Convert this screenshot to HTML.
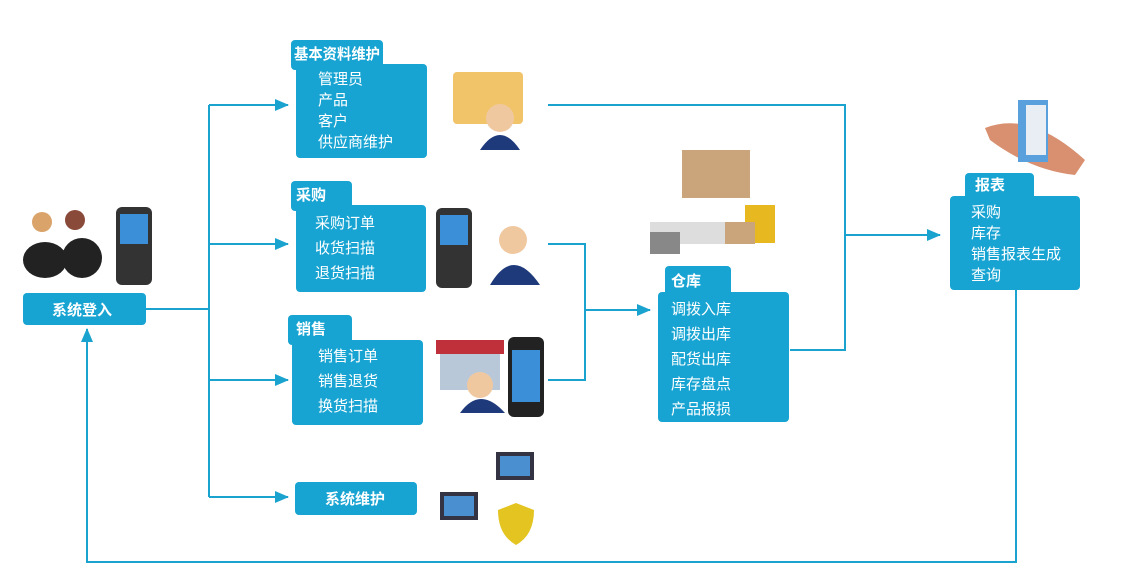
<!DOCTYPE html>
<html><head><meta charset="utf-8"><style>
html,body{margin:0;padding:0;background:#fff;width:1146px;height:576px;overflow:hidden}
svg text{font-family:"Liberation Sans","Noto Sans CJK SC",sans-serif;fill:#fff}
.b{font-weight:bold;font-size:15px}
.t{font-size:15px}
</style></head><body>
<svg width="1146" height="576" viewBox="0 0 1146 576" xmlns="http://www.w3.org/2000/svg">
<defs><marker id="a" markerWidth="14" markerHeight="14" refX="13" refY="7" orient="auto" markerUnits="userSpaceOnUse"><path d="M0,1 L14,7 L0,13 z" fill="#1ba3cf"/></marker></defs>
<g stroke="#1ba3cf" stroke-width="2" fill="none">
<path d="M146,309 H209"/>
<path d="M209,105 V497"/>
<path d="M209,105 H288" marker-end="url(#a)"/>
<path d="M209,244 H288" marker-end="url(#a)"/>
<path d="M209,380 H288" marker-end="url(#a)"/>
<path d="M209,497 H288" marker-end="url(#a)"/>
<path d="M548,105 H845 V350 H790"/>
<path d="M845,235 H940" marker-end="url(#a)"/>
<path d="M548,244 H585 V380 H548"/>
<path d="M585,310 H650" marker-end="url(#a)"/>
<path d="M1016,290 V562 H87 V329" marker-end="url(#a)"/>
</g>
<g fill="#18a4d2">
<rect x="23" y="293" width="123" height="32" rx="4"/>
<rect x="291" y="40" width="92" height="30" rx="4"/><rect x="296" y="64" width="131" height="94" rx="4"/>
<rect x="291" y="181" width="61" height="30" rx="4"/><rect x="296" y="205" width="130" height="87" rx="4"/>
<rect x="288" y="315" width="64" height="30" rx="4"/><rect x="292" y="340" width="131" height="85" rx="4"/>
<rect x="295" y="482" width="122" height="33" rx="4"/>
<rect x="665" y="266" width="66" height="30" rx="4"/><rect x="658" y="292" width="131" height="130" rx="4"/>
<rect x="965" y="173" width="69" height="30" rx="4"/><rect x="950" y="196" width="130" height="94" rx="4"/>
</g>
<text class="b" x="52" y="315">系统登入</text>
<text class="b" x="294" y="59" textLength="86" lengthAdjust="spacingAndGlyphs">基本资料维护</text>
<text class="t" x="318" y="84">管理员</text><text class="t" x="318" y="105">产品</text><text class="t" x="318" y="126">客户</text><text class="t" x="318" y="147">供应商维护</text>
<text class="b" x="296" y="200">采购</text>
<text class="t" x="315" y="228">采购订单</text><text class="t" x="315" y="253">收货扫描</text><text class="t" x="315" y="278">退货扫描</text>
<text class="b" x="296" y="334">销售</text>
<text class="t" x="318" y="361">销售订单</text><text class="t" x="318" y="386">销售退货</text><text class="t" x="318" y="411">换货扫描</text>
<text class="b" x="325" y="504">系统维护</text>
<text class="b" x="671" y="286">仓库</text>
<text class="t" x="671" y="314">调拨入库</text><text class="t" x="671" y="339">调拨出库</text><text class="t" x="671" y="364">配货出库</text><text class="t" x="671" y="389">库存盘点</text><text class="t" x="671" y="414">产品报损</text>
<text class="b" x="975" y="190">报表</text>
<text class="t" x="971" y="217">采购</text><text class="t" x="971" y="238">库存</text><text class="t" x="971" y="259">销售报表生成</text><text class="t" x="971" y="280">查询</text>
<g>
<circle cx="42" cy="222" r="10" fill="#d9a36a"/><circle cx="75" cy="220" r="10" fill="#8a4a3a"/>
<ellipse cx="45" cy="260" rx="22" ry="18" fill="#222"/><ellipse cx="82" cy="258" rx="20" ry="20" fill="#222"/>
<rect x="116" y="207" width="36" height="78" rx="6" fill="#333"/><rect x="120" y="214" width="28" height="30" fill="#3a8fd8"/>
<rect x="453" y="72" width="70" height="52" rx="4" fill="#f1c46a"/>
<circle cx="500" cy="118" r="14" fill="#f0c8a0"/><path d="M480,150 Q500,120 520,150z" fill="#1e3a7a"/>
<rect x="436" y="208" width="36" height="80" rx="6" fill="#333"/><rect x="440" y="215" width="28" height="30" fill="#3a8fd8"/>
<circle cx="513" cy="240" r="14" fill="#f0c8a0"/><path d="M490,285 Q513,245 540,285z" fill="#1e3a7a"/>
<rect x="440" y="345" width="60" height="45" fill="#b8c8d8"/><rect x="436" y="340" width="68" height="14" fill="#c0303a"/>
<circle cx="480" cy="385" r="13" fill="#f0c8a0"/><path d="M460,413 Q480,385 505,413z" fill="#1e3a7a"/>
<rect x="508" y="337" width="36" height="80" rx="6" fill="#222"/><rect x="512" y="350" width="28" height="52" fill="#3a8fd8"/>
<rect x="682" y="150" width="68" height="48" fill="#caa47a"/>
<rect x="650" y="222" width="80" height="22" fill="#ddd"/><rect x="650" y="232" width="30" height="22" fill="#888"/>
<rect x="745" y="205" width="30" height="38" fill="#e8b820"/><rect x="725" y="222" width="30" height="22" fill="#caa47a"/>
<path d="M985,128 Q1030,110 1085,160 L1075,175 Q1030,170 990,140z" fill="#d89070"/>
<rect x="1018" y="100" width="30" height="62" fill="#5aa0dc"/><rect x="1026" y="105" width="20" height="50" fill="#e8eef4"/>
<rect x="496" y="452" width="38" height="28" fill="#334"/><rect x="500" y="456" width="30" height="20" fill="#4a90d0"/>
<rect x="440" y="492" width="38" height="28" fill="#334"/><rect x="444" y="496" width="30" height="20" fill="#4a90d0"/>
<path d="M498,510 L516,503 L534,510 Q534,535 516,545 Q498,535 498,510z" fill="#e4c420"/>
</g>
</svg>
</body></html>
